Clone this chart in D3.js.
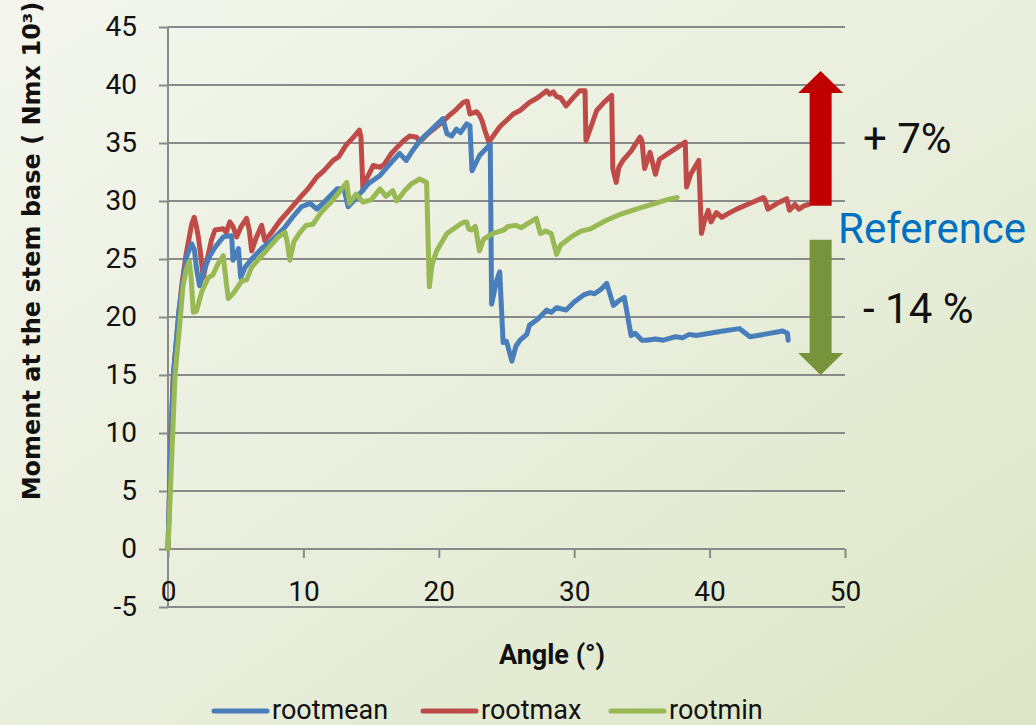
<!DOCTYPE html>
<html>
<head>
<meta charset="utf-8">
<script src="https://cdn.jsdelivr.net/npm/d3@7"></script>
<style>
  html, body { margin: 0; padding: 0; }
  body { width: 1036px; height: 725px; overflow: hidden; }
</style>
</head>
<body>
<svg id="chart" width="1036" height="725"></svg>
<script>
// ---- Data (angle in °, moment in Nm x 10^3) ----
const rootmean = [[0,0],[0.2,9],[0.4,15],[0.8,20.5],[1.1,23],[1.4,25.3],[1.75,26.3],[1.95,25.8],[2.1,24.2],[2.33,22.7],[2.7,24.2],[3.1,25.3],[3.47,26.0],[4.08,26.9],[4.5,27.0],[4.7,27.0],[4.8,24.9],[5.0,25.3],[5.2,25.9],[5.37,23.4],[5.7,24.3],[6.18,25.0],[6.92,25.9],[7.66,26.6],[8.6,27.7],[9.2,28.6],[9.85,29.5],[10.5,29.8],[11.0,29.3],[11.7,30.1],[12.5,31.05],[13.0,31.05],[13.3,29.5],[13.7,30.0],[14.3,30.8],[14.8,31.5],[15.66,32.2],[16.4,33.2],[17.1,34.1],[17.6,33.5],[18.1,34.4],[18.6,35.2],[19.5,36.2],[20.3,37.1],[20.6,35.8],[20.95,35.6],[21.3,36.2],[21.6,35.9],[22.06,36.65],[22.3,36.5],[22.45,32.6],[23.0,33.9],[23.8,34.9],[23.9,21.1],[24.26,23.1],[24.5,23.9],[24.75,17.8],[25.0,17.9],[25.4,16.2],[25.7,17.5],[26.0,18.0],[26.5,18.5],[26.7,19.3],[27.3,19.8],[27.97,20.6],[28.3,20.4],[28.7,20.8],[29.4,20.6],[30.0,21.3],[30.7,21.9],[31.2,22.1],[31.5,22.0],[32.0,22.4],[32.4,22.9],[32.9,21.0],[33.3,21.4],[33.7,21.7],[34.2,18.4],[34.5,18.6],[35.0,18.0],[35.35,18.0],[36.0,18.1],[36.6,18.0],[37.5,18.3],[38.0,18.2],[38.5,18.5],[39.0,18.4],[40.0,18.6],[41.0,18.8],[42.2,19.0],[42.98,18.3],[44.0,18.5],[45.4,18.8],[45.75,18.6],[45.8,18.0]];

const rootmax = [[0,0],[0.2,9],[0.39,15],[0.76,19.7],[1.0,22.6],[1.35,25.5],[1.75,28.0],[1.94,28.6],[2.1,27.8],[2.24,26.9],[2.4,25.5],[2.6,23.4],[2.9,25],[3.2,26.6],[3.47,27.5],[4.08,27.6],[4.3,27.3],[4.57,28.2],[4.8,27.8],[5.07,26.9],[5.4,27.8],[5.8,28.5],[6.0,27.5],[6.18,25.7],[6.5,26.8],[6.92,27.9],[7.14,26.6],[7.6,27.2],[8.27,28.3],[8.8,29.0],[9.75,30.3],[10.3,31.0],[10.98,32.05],[11.5,32.6],[12.2,33.5],[12.6,33.8],[13.2,34.9],[13.7,35.5],[14.14,36.1],[14.25,35.5],[14.4,30.9],[14.7,32.0],[15.16,33.06],[15.66,32.9],[16.0,33.2],[16.5,34.1],[16.9,34.6],[17.4,35.2],[17.85,35.6],[18.35,35.5],[18.6,35.1],[19.2,35.8],[20.1,36.65],[20.8,37.4],[21.3,37.9],[21.8,38.5],[22.1,38.6],[22.3,37.5],[22.8,37.7],[23.0,37.4],[23.2,36.9],[23.4,36.1],[23.7,35.07],[24.5,36.4],[25.5,37.5],[26.0,37.8],[26.7,38.5],[27.3,38.9],[27.97,39.5],[28.2,39.2],[28.46,39.4],[28.7,39.0],[29.0,38.9],[29.4,38.2],[30.0,39.0],[30.4,39.5],[30.8,39.5],[30.87,35.2],[31.0,35.6],[31.66,37.8],[32.2,38.5],[32.77,39.1],[32.85,32.8],[33.1,31.6],[33.3,32.9],[33.6,33.5],[34.2,34.3],[34.86,35.5],[35.0,35.2],[35.2,32.8],[35.6,34.2],[36.0,32.3],[36.3,33.6],[37.2,34.3],[38.2,35.07],[38.3,31.2],[38.6,32.3],[39.2,33.5],[39.4,27.2],[39.6,28.2],[39.9,29.2],[40.1,28.2],[40.5,29.0],[40.9,28.6],[41.5,29.0],[42.0,29.3],[43.0,29.8],[43.97,30.3],[44.1,30.1],[44.3,29.3],[45.0,29.8],[45.7,30.2],[45.9,29.2],[46.3,29.7],[46.6,29.3],[47.0,29.6],[47.3,29.7]];

const rootmin = [[0,0],[0.35,10],[0.52,15],[0.89,19.7],[1.1,22.6],[1.33,24.0],[1.57,24.8],[1.7,23.5],[1.87,20.4],[2.1,20.5],[2.5,22.2],[2.98,23.4],[3.3,23.6],[3.7,24.6],[4.08,25.3],[4.2,24.0],[4.45,21.6],[4.8,22.0],[5.44,23.1],[5.8,23.2],[6.18,24.3],[7.16,25.6],[8.15,26.9],[8.64,27.3],[8.8,26.5],[9.0,24.9],[9.3,26.5],[9.75,27.3],[10.2,27.9],[10.7,28.0],[11.3,29.0],[11.96,29.8],[12.6,30.7],[13.2,31.6],[13.4,29.8],[13.9,30.6],[14.4,29.9],[15.0,30.1],[15.66,31.05],[16.1,30.4],[16.6,30.9],[16.9,30.0],[17.5,30.9],[18.0,31.5],[18.6,31.9],[19.1,31.6],[19.2,27],[19.3,22.6],[19.5,24.5],[19.84,25.7],[20.6,27.2],[21.57,28.0],[21.9,28.2],[22.06,28.2],[22.2,27.6],[22.4,27.5],[22.7,27.8],[23.0,25.7],[23.3,26.7],[24.0,27.2],[24.8,27.5],[25.1,27.8],[25.7,27.9],[26.1,27.7],[26.5,28.0],[27.2,28.5],[27.5,27.2],[27.9,27.4],[28.3,27.2],[28.7,25.4],[29.0,26.2],[29.9,27.0],[30.5,27.4],[31.2,27.6],[32.3,28.3],[33.5,28.9],[34.86,29.4],[36.0,29.8],[36.8,30.1],[37.6,30.3]];

const seriesNames = ["rootmean", "rootmax", "rootmin"];
const seriesColors = ["#4a7ebb", "#be4b48", "#98b954"];
const xTicks = [0, 10, 20, 30, 40, 50];
const yTicks = [-5, 0, 5, 10, 15, 20, 25, 30, 35, 40, 45];
const xTitle = "Angle (°)";
const yTitle = "Moment at the stem base ( Nmx 10³)";
// annotation: change relative to reference
const refLevel = 29.6;          // bottom of up arrow
const upTop = 41.2, downTop = 26.65, downTip = 15.0;
const annoAngle = 48.2;

// ---- Chart ----
const svg = d3.select("#chart");
const defs = svg.append("defs");
const grad = defs.append("linearGradient").attr("id", "bg")
  .attr("x1", "0%").attr("y1", "0%").attr("x2", "100%").attr("y2", "100%");
grad.append("stop").attr("offset", "0%").attr("stop-color", "#f4f6ee");
grad.append("stop").attr("offset", "55%").attr("stop-color", "#e8eedb");
grad.append("stop").attr("offset", "100%").attr("stop-color", "#dce6c6");
svg.append("rect").attr("width", 1036).attr("height", 725).attr("fill", "url(#bg)");

const x = d3.scaleLinear().domain([0, 50]).range([168, 845]);
const y = d3.scaleLinear().domain([-5, 45]).range([607, 27]);
const gridColor = "#8a8a8a";
const numFont = "Roboto, 'Open Sans', sans-serif";

// gridlines
svg.append("g").selectAll("line").data(yTicks).join("line")
  .attr("x1", x(0)).attr("x2", x(50))
  .attr("y1", d => y(d)).attr("y2", d => y(d))
  .attr("stroke", gridColor).attr("stroke-width", 2);

// y axis
const yAxis = svg.append("g").attr("transform", `translate(${x(0)},0)`)
  .call(d3.axisLeft(y).tickValues(yTicks).tickSize(9).tickPadding(22).tickFormat(d => String(d)));
yAxis.select(".domain").remove();
yAxis.selectAll(".tick line").attr("stroke", gridColor).attr("stroke-width", 2);
yAxis.selectAll(".tick text").attr("font-family", numFont).attr("font-size", 28).attr("fill", "#111");
svg.append("line").attr("x1", x(0)).attr("x2", x(0)).attr("y1", y(45)).attr("y2", y(-5))
  .attr("stroke", gridColor).attr("stroke-width", 2);

// x axis at zero
const xAxis = svg.append("g").attr("transform", `translate(0,${y(0)})`)
  .call(d3.axisBottom(x).tickValues(xTicks).tickSize(9).tickPadding(23).tickFormat(d => String(d)));
xAxis.select(".domain").remove();
xAxis.selectAll(".tick line").attr("stroke", gridColor).attr("stroke-width", 2);
xAxis.selectAll(".tick text").attr("font-family", numFont).attr("font-size", 28).attr("fill", "#111");

// lines
const line = d3.line().x(d => x(d[0])).y(d => y(d[1])).curve(d3.curveLinear);
const allSeries = [rootmean, rootmax, rootmin];
[1, 0, 2].forEach(i => {
  svg.append("path").datum(allSeries[i])
    .attr("d", line).attr("fill", "none")
    .attr("stroke", seriesColors[i]).attr("stroke-width", 5)
    .attr("stroke-linejoin", "round").attr("stroke-linecap", "round");
});

// axis titles
svg.append("text").attr("transform", `translate(32,251) rotate(-90)`)
  .attr("text-anchor", "middle").attr("dominant-baseline", "central")
  .attr("font-family", "'DejaVu Sans', Verdana, sans-serif").attr("font-weight", "bold")
  .attr("font-size", 24).attr("fill", "#111").text(yTitle);
svg.append("text").attr("x", 552).attr("y", 664)
  .attr("text-anchor", "middle")
  .attr("font-family", numFont).attr("font-weight", "bold")
  .attr("font-size", 27).attr("fill", "#111").text(xTitle);

// legend
const legendX = [214, 423, 611];
seriesNames.forEach((n, i) => {
  const g = svg.append("g").attr("transform", `translate(${legendX[i]},0)`);
  g.append("line").attr("x1", 0).attr("x2", 53).attr("y1", 711).attr("y2", 711)
    .attr("stroke", seriesColors[i]).attr("stroke-width", 5).attr("stroke-linecap", "round");
  g.append("text").attr("x", 58).attr("y", 719)
    .attr("font-family", numFont).attr("font-size", 27).attr("fill", "#111").text(n);
});

// arrows
const ax = x(annoAngle);
const shaftW = 11, headW = 22.5, headL = 22;
const upPts = [
  [ax - shaftW, y(refLevel)], [ax - shaftW, y(upTop) + headL], [ax - headW, y(upTop) + headL],
  [ax, y(upTop)], [ax + headW, y(upTop) + headL], [ax + shaftW, y(upTop) + headL], [ax + shaftW, y(refLevel)]
];
svg.append("polygon").attr("points", upPts.map(p => p.join(",")).join(" ")).attr("fill", "#c00000");
const downPts = [
  [ax - shaftW, y(downTop)], [ax - shaftW, y(downTip) - headL], [ax - headW, y(downTip) - headL],
  [ax, y(downTip)], [ax + headW, y(downTip) - headL], [ax + shaftW, y(downTip) - headL], [ax + shaftW, y(downTop)]
];
svg.append("polygon").attr("points", downPts.map(p => p.join(",")).join(" ")).attr("fill", "#77933c");

svg.append("text").attr("x", 863).attr("y", 153).attr("font-family", numFont)
  .attr("font-size", 42).attr("fill", "#111").text("+ 7%");
svg.append("text").attr("x", 838).attr("y", 243).attr("font-family", numFont)
  .attr("font-size", 42).attr("fill", "#0070c0").text("Reference");
svg.append("text").attr("x", 863).attr("y", 323).attr("font-family", numFont)
  .attr("font-size", 42).attr("fill", "#111").text("- 14 %");
</script>
</body>
</html>
